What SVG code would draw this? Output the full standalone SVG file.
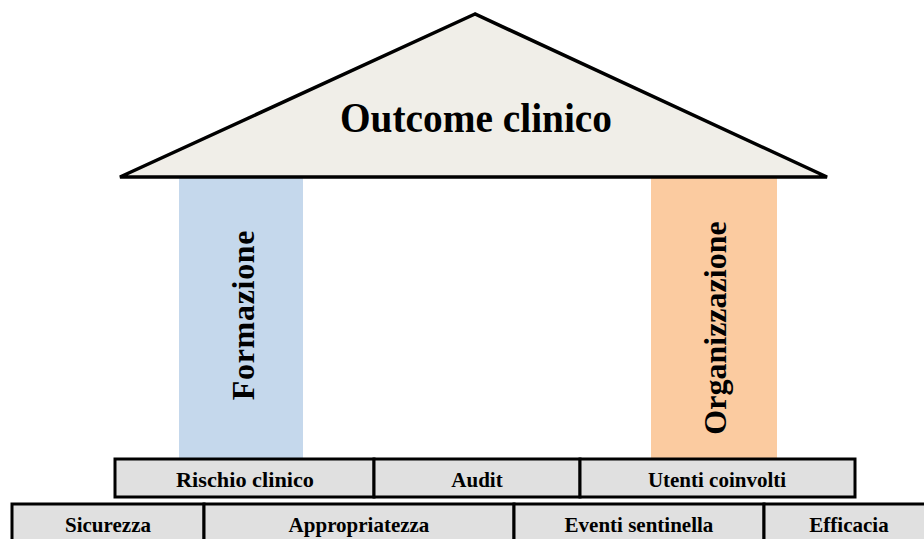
<svg xmlns="http://www.w3.org/2000/svg" width="924" height="539" viewBox="0 0 924 539">
<style>
.t{font-family:"Liberation Serif","Times New Roman",serif;font-weight:bold;fill:#000;text-anchor:middle}
.r{font-size:21px}
.cell{fill:#E0E0E0;stroke:#000;stroke-width:3}
</style>
<rect width="924" height="539" fill="#fff"/>
<g id="pillar-formazione">
<rect x="179" y="178" width="124" height="280" fill="#C5D8EC"/>
<text class="t" font-size="32" letter-spacing="0.7" transform="translate(254,315) rotate(-90)">Formazione</text>
</g>
<g id="pillar-organizzazione">
<rect x="651" y="178" width="126" height="280" fill="#FBCBA0"/>
<text class="t" font-size="32" transform="translate(726,328) rotate(-90)">Organizzazione</text>
</g>
<g id="roof">
<polygon points="475,14 120,177 827,177" fill="#F0EEE8" stroke="#000" stroke-width="3.5" stroke-linejoin="miter"/>
<text class="t" x="476" y="132" font-size="42" textLength="272" lengthAdjust="spacingAndGlyphs">Outcome clinico</text>
</g>
<g id="row1">
<g id="rischio"><rect class="cell" x="115" y="459" width="259" height="38"/><text class="t r" x="245" y="487" textLength="138" lengthAdjust="spacingAndGlyphs">Rischio clinico</text></g>
<g id="audit"><rect class="cell" x="374" y="459" width="206" height="38"/><text class="t r" x="477" y="487">Audit</text></g>
<g id="utenti"><rect class="cell" x="580" y="459" width="275" height="38"/><text class="t r" x="717" y="487">Utenti coinvolti</text></g>
</g>
<g id="row2">
<g id="sicurezza"><rect class="cell" x="12" y="504" width="192" height="40"/><text class="t r" x="108" y="532">Sicurezza</text></g>
<g id="appropriatezza"><rect class="cell" x="204" y="504" width="310" height="40"/><text class="t r" x="359" y="532">Appropriatezza</text></g>
<g id="eventi"><rect class="cell" x="514" y="504" width="250" height="40"/><text class="t r" x="639" y="532">Eventi sentinella</text></g>
<g id="efficacia"><rect class="cell" x="764" y="504" width="170" height="40"/><text class="t r" x="849" y="532">Efficacia</text></g>
</g>
<g id="connectors"></g>
</svg>
